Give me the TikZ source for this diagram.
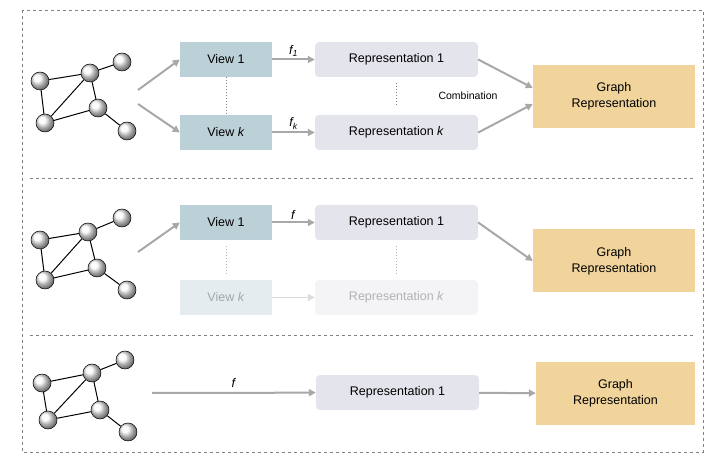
\documentclass[tikz,border=0pt]{standalone}
\usepackage{fontspec}
\setmainfont{Liberation Sans}
\usetikzlibrary{arrows.meta}
\definecolor{viewc}{HTML}{BCD0D8}
\definecolor{repc}{HTML}{E4E4EC}
\definecolor{grc}{HTML}{F0D49C}
\definecolor{arr}{HTML}{A8A8A8}
\begin{document}
\begin{tikzpicture}[x=1pt,y=-1pt,
  every node/.style={font=\fontsize{12.5}{14}\selectfont},
  ball/.style={circle,draw=black,line width=0.5pt,minimum size=18pt,inner sep=0pt,ball color=white!95!gray,shading=ball},
  edge/.style={line width=1pt,black},
  view/.style={fill=viewc,minimum width=92pt,minimum height=35pt,inner sep=0pt},
  fview/.style={fill=viewc!40,text=black!35,minimum width=92pt,minimum height=35pt,inner sep=0pt},
  rep/.style={fill=repc,rounded corners=4pt,minimum width=163pt,minimum height=35pt,inner sep=0pt},
  frep/.style={fill=repc!40,text=black!30,rounded corners=4pt,minimum width=163pt,minimum height=35pt,inner sep=0pt},
  gr/.style={fill=grc,minimum width=162pt,minimum height=63pt,inner sep=0pt,align=center,font=\fontsize{12.5}{16}\selectfont},
  ar/.style={draw=arr,line width=2pt,-{Triangle[length=7pt,width=7pt]}},
  far/.style={draw=arr!40,line width=1.5pt,-{Triangle[length=7pt,width=7pt]}},
  vd/.style={dotted,line width=1pt,draw=gray},
  sep/.style={dashed,draw=gray,line width=0.8pt}]
\useasboundingbox (0,0) rectangle (723,462);
\draw[sep] (22,10) rectangle (703,452);
\draw[sep] (30,178) -- (695,178);
\draw[sep] (30,335) -- (695,335);
% graph macro-free: panel 1
\foreach \p/\dy/\dx in {1/0/0,2/163/-2}{}
% Panel 1 graph
\node[ball] (a1) at (40,81) {};
\node[ball] (b1) at (90,73) {};
\node[ball] (c1) at (122,62) {};
\node[ball] (d1) at (98,108) {};
\node[ball] (e1) at (45,123) {};
\node[ball] (f1) at (127,131) {};
\begin{scope}[on background layer/.try]\end{scope}
\draw[edge] (a1)--(b1) (a1)--(e1) (b1)--(e1) (b1)--(d1) (d1)--(e1) (b1)--(c1) (d1)--(f1);
\node[view] (v11) at (226,59.5) {View 1};
\node[view] (v1k) at (226,132.5) {View \textit{k}};
\node[rep] (r11) at (396.5,59.5) {Representation 1};
\node[rep] (r1k) at (396.5,132.5) {Representation \textit{k}};
\node[gr] (g1) at (614,96.5) {Graph\\Representation};
\coordinate (s1a) at (138,90); \coordinate (s1b) at (138,104);
\draw[ar] (s1a) -- (v11.west);
\draw[ar] (s1b) -- (v1k.west);
\draw[ar] (v11) -- node[above=-1pt]{\textit{f\textsubscript{1}}} (r11);
\draw[ar] (v1k) -- node[above=-1pt]{\textit{f\textsubscript{k}}} (r1k);
\draw[ar] (r11.east) -- (g1.west|-0,88);
\draw[ar] (r1k.east) -- (g1.west|-0,104);
\node[font=\fontsize{10.5}{12}\selectfont,fill=white,inner sep=1pt] (cb) at (468,96) {Combination};
\draw[vd] (v11.south) -- (v1k.north);
\draw[vd] (r11.south) ++(0,6) -- ++(0,24);
% Panel 2 graph
\node[ball] (a2) at (40,240) {};
\node[ball] (b2) at (88,232) {};
\node[ball] (c2) at (122,218) {};
\node[ball] (d2) at (97,268) {};
\node[ball] (e2) at (45,280) {};
\node[ball] (f2) at (127,290) {};
\draw[edge] (a2)--(b2) (a2)--(e2) (b2)--(e2) (b2)--(d2) (d2)--(e2) (b2)--(c2) (d2)--(f2);
\node[view] (v21) at (226,222.5) {View 1};
\node[fview] (v2k) at (226,297.5) {View \textit{k}};
\node[rep] (r21) at (396.5,222.5) {Representation 1};
\node[frep] (r2k) at (396.5,297.5) {Representation \textit{k}};
\node[gr] (g2) at (614,261) {Graph\\Representation};
\coordinate (s2) at (138,252);
\draw[ar] (s2) -- (v21.west);
\draw[ar] (v21) -- node[above=-1pt]{\textit{f}} (r21);
\draw[far] (v2k) -- (r2k);
\draw[ar] (r21.east) -- (g2.west);
\draw[vd,draw=gray!60] (v21.south) ++(0,6) -- ++(0,28);
\draw[vd,draw=gray!60] (r21.south) ++(0,6) -- ++(0,28);
% Panel 3 graph
\node[ball] (a3) at (42,383) {};
\node[ball] (b3) at (92,373) {};
\node[ball] (c3) at (125,360) {};
\node[ball] (d3) at (100,410) {};
\node[ball] (e3) at (48,420) {};
\node[ball] (f3) at (128,432) {};
\draw[edge] (a3)--(b3) (a3)--(e3) (b3)--(e3) (b3)--(d3) (d3)--(e3) (b3)--(c3) (d3)--(f3);
\node[rep] (r31) at (397.5,392.5) {Representation 1};
\node[gr,minimum width=159pt] (g3) at (615.5,393.5) {Graph\\Representation};
\coordinate (s3) at (152,393);
\draw[ar] (s3) -- node[above=1pt]{\textit{f}} (r31);
\draw[ar] (r31) -- (g3);
\end{tikzpicture}
\end{document}
